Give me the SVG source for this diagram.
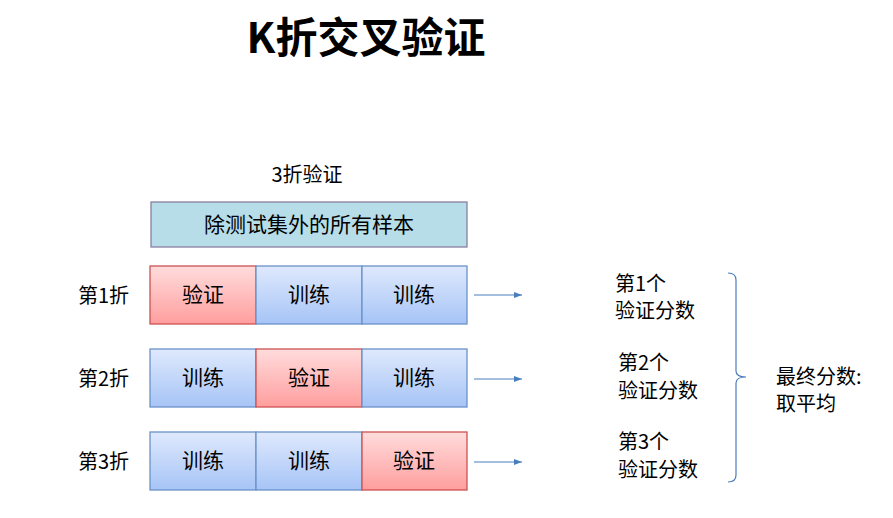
<svg xmlns="http://www.w3.org/2000/svg" width="893" height="518" viewBox="0 0 893 518">
<defs>
<linearGradient id="gb" x1="0" y1="0" x2="0" y2="1"><stop offset="0" stop-color="#dfe9fd"/><stop offset="1" stop-color="#a6c4f6"/></linearGradient>
<linearGradient id="gr" x1="0" y1="0" x2="0" y2="1"><stop offset="0" stop-color="#ffdcdc"/><stop offset="1" stop-color="#ff9e9e"/></linearGradient>
<marker id="ah" markerWidth="8" markerHeight="6" refX="8" refY="3" orient="auto" markerUnits="userSpaceOnUse"><path d="M0,0 L8,3 L0,6 Z" fill="#4a7ebb"/></marker>
<style>
text{font-family:"Microsoft YaHei","Noto Sans CJK SC","Liberation Sans",sans-serif;fill:#000}
.t{font-size:20px}
.c{font-size:21px;text-anchor:middle}
.b{fill:url(#gb);stroke:#6a93c8;stroke-width:1.3}
.r{fill:url(#gr);stroke:#cc5252;stroke-width:1.3}
.a{stroke:#4a7ebb;stroke-width:1.2;fill:none;marker-end:url(#ah)}
</style>
</defs>
<rect width="893" height="518" fill="#fff"/>
<text x="366" y="53" font-size="42" font-weight="bold" text-anchor="middle">K折交叉验证</text>
<text x="307" y="182" class="c" style="font-size:20px">3折验证</text>
<g id="all">
<rect x="151" y="202" width="316" height="45" fill="#b7dde8" stroke="#8a7fa0" stroke-width="1.3"/>
<text x="309" y="232" class="c">除测试集外的所有样本</text>
</g>
<g id="fold1">
<text x="78" y="303" class="t">第1折</text>
<rect x="150" y="266" width="106" height="58" class="r"/><text x="203" y="302" class="c">验证</text>
<rect x="256" y="266" width="106" height="58" class="b"/><text x="309" y="302" class="c">训练</text>
<rect x="362" y="266" width="105" height="58" class="b"/><text x="414" y="302" class="c">训练</text>
</g>
<g id="fold2">
<text x="78" y="386" class="t">第2折</text>
<rect x="150" y="349" width="106" height="58" class="b"/><text x="203" y="385" class="c">训练</text>
<rect x="256" y="349" width="106" height="58" class="r"/><text x="309" y="385" class="c">验证</text>
<rect x="362" y="349" width="105" height="58" class="b"/><text x="414" y="385" class="c">训练</text>
</g>
<g id="fold3">
<text x="78" y="469" class="t">第3折</text>
<rect x="150" y="432" width="106" height="58" class="b"/><text x="203" y="468" class="c">训练</text>
<rect x="256" y="432" width="106" height="58" class="b"/><text x="309" y="468" class="c">训练</text>
<rect x="362" y="432" width="105" height="58" class="r"/><text x="414" y="468" class="c">验证</text>
</g>
<g id="score1"><text x="615" y="291" class="t">第1个</text><text x="615" y="318" class="t">验证分数</text></g>
<g id="score2"><text x="618" y="370" class="t">第2个</text><text x="618" y="398" class="t">验证分数</text></g>
<g id="score3"><text x="618" y="449" class="t">第3个</text><text x="618" y="477" class="t">验证分数</text></g>
<g id="final"><text x="776" y="384" class="t">最终分数:</text><text x="776" y="411" class="t">取平均</text></g>
<g id="connectors">
<line x1="474" y1="295" x2="522" y2="295" class="a"/>
<line x1="474" y1="379" x2="522" y2="379" class="a"/>
<line x1="474" y1="462" x2="522" y2="462" class="a"/>
<path d="M728,273 Q736,273 736,280 L736,371 Q736,377 746,377 Q736,377 736,383 L736,475 Q736,482 728,482" fill="none" stroke="#4a7ebb" stroke-width="1.2"/>
</g>
</svg>
